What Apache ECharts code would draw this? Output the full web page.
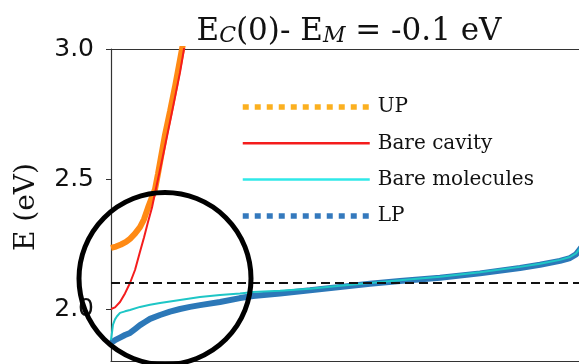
<!DOCTYPE html>
<html>
<head>
<meta charset="utf-8">
<script src="https://cdn.jsdelivr.net/npm/echarts@6/dist/echarts.min.js"></script>
<style>
  html, body { margin: 0; padding: 0; background: #fff; }
  #chart { width: 579px; height: 364px; }
</style>
</head>
<body>
<div id="chart"></div>
<script>
// ---- data (x: wave-vector in arbitrary units, E in eV) ----
const cavityX = [0, 4, 9, 14, 19, 24, 29, 33, 37, 41, 44, 49, 54, 59, 64, 69, 73, 77];
const cavityE = [2.0, 2.006, 2.027, 2.06, 2.10, 2.15, 2.22, 2.275, 2.335, 2.39, 2.446, 2.535, 2.627, 2.72, 2.815, 2.91, 3.0, 3.08];

const upX = [0, 5, 10, 15, 19, 24, 29, 33, 37, 41, 44, 47, 54, 59, 64, 71, 75];
const upE = [2.235, 2.24, 2.248, 2.258, 2.27, 2.29, 2.315, 2.345, 2.39, 2.43, 2.46, 2.52, 2.67, 2.76, 2.855, 3.0, 3.08];

const lpX = [0, 4, 9, 14, 19, 24, 29, 34, 39, 49, 59, 69, 79, 89, 109, 129, 142, 169, 199, 229, 259, 289, 329, 369, 409, 429, 449, 459, 465, 470, 480];
const lpE = [1.87, 1.88, 1.89, 1.90, 1.908, 1.923, 1.938, 1.95, 1.962, 1.977, 1.99, 2.0, 2.008, 2.015, 2.027, 2.042, 2.05, 2.06, 2.072, 2.085, 2.097, 2.108, 2.12, 2.137, 2.158, 2.17, 2.185, 2.196, 2.21, 2.235, 2.28];

const molX = [0, 1, 2, 4, 6, 9, 14, 19, 29, 39, 49, 69, 89, 109, 129, 142, 169, 199, 229, 259, 289, 329, 369, 409, 429, 449, 459, 465, 470, 480];
const molE = [1.88, 1.91, 1.94, 1.96, 1.972, 1.985, 1.991, 1.996, 2.008, 2.016, 2.023, 2.035, 2.046, 2.054, 2.06, 2.065, 2.07, 2.078, 2.089, 2.1, 2.111, 2.124, 2.141, 2.162, 2.174, 2.189, 2.2, 2.214, 2.238, 2.28];

const refLevel = 2.1;             // dashed horizontal line
const yTicks = [2.0, 2.5, 3.0];   // tick labels
const legendNames = ['UP', 'Bare cavity', 'Bare molecules', 'LP'];

const pairs = (xs, ys) => xs.map((x, i) => [x, ys[i]]);

const chart = echarts.init(document.getElementById('chart'), null, { renderer: 'canvas' });

const axisColor = '#333';
const serif = 'DejaVu Serif';
const noSym = { color: 'rgba(0,0,0,0)', borderColor: 'rgba(0,0,0,0)', borderWidth: 0, opacity: 0 };

const option = {
  animation: false,
  backgroundColor: '#ffffff',
  grid: { left: 111, top: 49, right: -20, bottom: 3, containLabel: false, outerBoundsMode: 'none' },
  xAxis: [
    { type: 'value', min: 0, max: 488, position: 'bottom',
      axisLine: { show: true, onZero: false, lineStyle: { color: axisColor, width: 1.2 } },
      axisTick: { show: false }, axisLabel: { show: false }, splitLine: { show: false } },
    { type: 'value', min: 0, max: 488, position: 'top',
      axisLine: { show: true, onZero: false, lineStyle: { color: axisColor, width: 1.2 } },
      axisTick: { show: false }, axisLabel: { show: false }, splitLine: { show: false } }
  ],
  yAxis: {
    type: 'value', min: 1.8, max: 3.0,
    axisLine: { show: true, onZero: false, lineStyle: { color: axisColor, width: 1.2 } },
    axisTick: { show: true, length: 5, customValues: yTicks, lineStyle: { color: axisColor, width: 1 } },
    axisLabel: { customValues: yTicks, formatter: v => v.toFixed(1), fontFamily: 'DejaVu Sans', fontSize: 25, color: '#111', margin: 17 },
    splitLine: { show: false }
  },
  legend: {
    orient: 'vertical', left: 240, top: 96, padding: 0,
    itemWidth: 127, itemHeight: 12, itemGap: 14.3,
    textStyle: { fontFamily: serif, fontSize: 20, color: '#111', lineHeight: 22, padding: [0, 0, 0, 3] },
    data: legendNames.map((n, i) => ({
      name: n,
      itemStyle: noSym,
      lineStyle: [
        { color: '#fbb020', type: [6, 6], width: 5.5 },
        { color: '#f41c1c', width: 2.5 },
        { color: '#30e8e8', width: 2.5 },
        { color: '#3479bd', type: [6, 6], width: 5.5 }
      ][i]
    }))
  },
  series: [
    { name: 'UP', type: 'line', data: pairs(upX, upE), symbol: 'none', showSymbol: false,
      lineStyle: { color: '#ff8a14', width: 6 }, itemStyle: { color: '#ff8a14' } },
    { name: 'LP', type: 'line', data: pairs(lpX, lpE), symbol: 'none', showSymbol: false,
      lineStyle: { color: '#2c78b8', width: 6 }, itemStyle: { color: '#2c78b8' } },
    { name: 'Bare molecules', type: 'line', data: pairs(molX, molE), symbol: 'none', showSymbol: false,
      lineStyle: { color: '#1ec6c6', width: 2 }, itemStyle: { color: '#1ec6c6' } },
    { name: 'Bare cavity', type: 'line', data: pairs(cavityX, cavityE), symbol: 'none', showSymbol: false,
      lineStyle: { color: '#f41c1c', width: 2 }, itemStyle: { color: '#f41c1c' },
      markLine: { silent: true, symbol: ['none', 'none'], label: { show: false },
        lineStyle: { color: '#111', type: [9, 5], width: 1.8 },
        data: [{ yAxis: refLevel }] } }
  ],
  graphic: [
    { type: 'text', x: 349, y: 30, z: 50,
      style: {
        text: '{n|E}{s|C}{n|(0)- E}{s|M}{n| = -0.1 eV}',
        align: 'center', verticalAlign: 'middle',
        rich: {
          n: { fontFamily: serif, fontSize: 31, lineHeight: 34, verticalAlign: 'bottom', fill: '#111' },
          s: { fontFamily: serif, fontSize: 22, fontStyle: 'italic', lineHeight: 17, verticalAlign: 'bottom', fill: '#111' }
        }
      } },
    { type: 'text', x: 27, y: 207, rotation: Math.PI / 2, z: 50,
      style: { text: 'E (eV)', fontFamily: serif, fontSize: 28, fill: '#111', align: 'center', verticalAlign: 'middle' } },
    { type: 'circle', z: 100, shape: { cx: 165, cy: 278.5, r: 86 },
      style: { fill: 'none', stroke: '#000', lineWidth: 5 } }
  ]
};

chart.setOption(option);
</script>
</body>
</html>
